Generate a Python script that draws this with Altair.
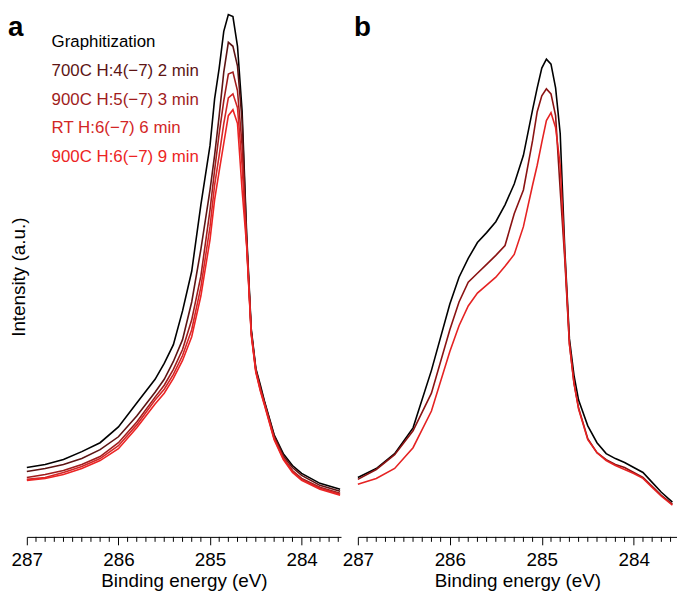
import altair as alt
import pandas as pd

# ---------------- data ----------------
# Panel a : binding energy grid (eV) and intensities (a.u.)
energy_a = [287.0, 286.8, 286.6, 286.4, 286.2, 286.0, 285.8, 285.6, 285.5, 285.4,
            285.3, 285.2, 285.1, 285.0, 284.95, 284.9, 284.85, 284.8, 284.75, 284.7,
            284.65, 284.6, 284.55, 284.5, 284.45, 284.4, 284.3, 284.2, 284.1, 284.0,
            283.8, 283.58]
graph_a = [70, 73, 78, 86, 95, 111, 135, 159, 175, 194, 228, 268, 335, 395, 442, 473,
           510, 527, 525, 495, 430, 305, 210, 170, 153, 135, 103, 84, 72, 64, 54, 48]
h4_a = [66, 69, 73, 79, 88, 101, 122, 146, 159, 177, 199, 237, 290, 350, 385, 425,
        469, 499, 495, 475, 420, 300, 208, 169, 151, 134, 102, 82, 70, 62, 52, 46]
h5_a = [60, 63, 67, 73, 81, 95, 116, 141, 153, 169, 189, 219, 263, 330, 370, 407,
        440, 467, 469, 450, 395, 297, 206, 168, 149, 133, 100, 80, 67, 59, 50, 44]
rt_a = [58, 60, 65, 71, 79, 92, 113, 138, 149, 164, 183, 209, 252, 313, 355, 385,
        417, 443, 447, 433, 375, 295, 205, 167, 148, 132, 99, 79, 66, 58, 49, 43]
h6_a = [57, 59, 63, 69, 77, 89, 110, 134, 145, 160, 178, 202, 243, 300, 340, 369,
        397, 425, 431, 417, 350, 293, 204, 166, 147, 131, 98, 78, 65, 57, 48, 42]

names_a = ["Graphitization", "700C H:4(\u22127) 2 min", "900C H:5(\u22127) 3 min",
           "RT H:6(\u22127) 6 min", "900C H:6(\u22127) 9 min"]
colors_a = ["#000000", "#5c1414", "#a01c1c", "#d32626", "#ec2424"]
series_a = [graph_a, h4_a, h5_a, rt_a, h6_a]

# Panel b
energy_b = [287.0, 286.8, 286.6, 286.4, 286.2, 286.0, 285.9, 285.8, 285.7, 285.6,
            285.5, 285.4, 285.3, 285.2, 285.1, 285.05, 285.0, 284.95, 284.9, 284.85,
            284.8, 284.75, 284.7, 284.65, 284.6, 284.5, 284.4, 284.3, 284.2, 284.1,
            284.0, 283.9, 283.8, 283.7, 283.58]
black_b = [60, 69, 84, 110, 168, 235, 262, 281, 297, 307, 318, 335, 356, 385, 431, 453,
           473, 482, 477, 453, 407, 290, 200, 163, 138, 112, 95, 84, 79, 75, 70, 65,
           55, 45, 35]
dark_b = [58, 68, 83, 107, 145, 209, 237, 257, 266, 275, 284, 294, 326, 350, 400, 429,
          445, 452, 447, 425, 350, 280, 195, 155, 130, 99, 85, 78, 73, 70, 65, 60,
          51, 42, 33]
red_b = [53, 59, 69, 90, 127, 187, 213, 233, 246, 254, 262, 273, 285, 313, 355, 375,
         398, 420, 428, 413, 375, 285, 195, 155, 129, 98, 85, 77, 72, 68, 64, 59,
         50, 41, 32]

names_b = ["Spectrum 1", "Spectrum 2", "Spectrum 3"]
colors_b = ["#000000", "#8a1212", "#e52222"]
series_b = [black_b, dark_b, red_b]

major_ticks = [287, 286, 285, 284]
minor_ticks = [round(287 - k / 10, 1) for k in range(1, 35) if k % 10 != 0]

FONT = "Liberation Sans"
PLOT_H = 527

# one colour scale shared by both panels (concat shares colour scales)
color_scale = alt.Scale(domain=names_a + names_b, range=colors_a + colors_b)


def long_df(energy, names, series):
    rows = []
    for n, vals in zip(names, series):
        for e, v in zip(energy, vals):
            rows.append({"energy": e, "intensity": v, "series": n})
    return pd.DataFrame(rows)


def panel(energy, names, series, x_end, width, letter, letter_x,
          legend=False, ytitle=False):
    xscale = alt.Scale(domain=[287, x_end], nice=False, zero=False)
    xaxis = alt.Axis(values=major_ticks, format="d", tickSize=8, tickWidth=1,
                     labelFontSize=19, titleFontSize=19, titleFontWeight="normal",
                     labelPadding=6, titlePadding=2, domainColor="black",
                     domainWidth=1, tickColor="black", labelColor="black",
                     titleColor="black", grid=False, labelFlush=False,
                     labelOverlap=False)
    xenc = alt.X("energy:Q", scale=xscale, axis=xaxis, title="Binding energy (eV)")

    lines = alt.Chart(long_df(energy, names, series)).mark_line(
        strokeWidth=1.6).encode(
        x=xenc,
        y=alt.Y("intensity:Q", scale=alt.Scale(domain=[0, PLOT_H], nice=False,
                                               zero=False), axis=None),
        color=alt.Color("series:N", scale=color_scale, legend=None),
    )
    ticks = alt.Chart(pd.DataFrame({"energy": minor_ticks})).mark_rule(
        color="black", strokeWidth=1).encode(
        x=xenc, y=alt.value(PLOT_H), y2=alt.value(PLOT_H + 5))

    layers = [lines, ticks]
    layers.append(
        alt.Chart(pd.DataFrame({"t": [letter]})).mark_text(
            fontSize=28, fontWeight="bold", align="left", baseline="top",
            color="black").encode(text="t:N", x=alt.value(letter_x), y=alt.value(0)))
    if ytitle:
        layers.append(
            alt.Chart(pd.DataFrame({"t": ["Intensity (a.u.)"]})).mark_text(
                fontSize=19, angle=270, align="center", baseline="middle",
                color="black").encode(text="t:N", x=alt.value(-8),
                                      y=alt.value(265)))
    if legend:
        for i, n in enumerate(names):
            layers.append(
                alt.Chart(pd.DataFrame({"series": [n]})).mark_text(
                    fontSize=17, align="left", baseline="alphabetic").encode(
                    text="series:N",
                    color=alt.Color("series:N", scale=color_scale, legend=None),
                    x=alt.value(25), y=alt.value(33 + 29 * i)))
    return alt.layer(*layers).properties(width=width, height=PLOT_H)


pa = panel(energy_a, names_a, series_a, 283.57, 317, "a", -19,
           legend=True, ytitle=True)
pb = panel(energy_b, names_b, series_b, 283.53, 322, "b", -4)

chart = alt.hconcat(pa, pb, spacing=17, bounds="flush").properties(
    padding=0).configure(font=FONT).configure_view(stroke=None)

chart.save("out.html", embed_options={"renderer": "svg", "actions": False})
